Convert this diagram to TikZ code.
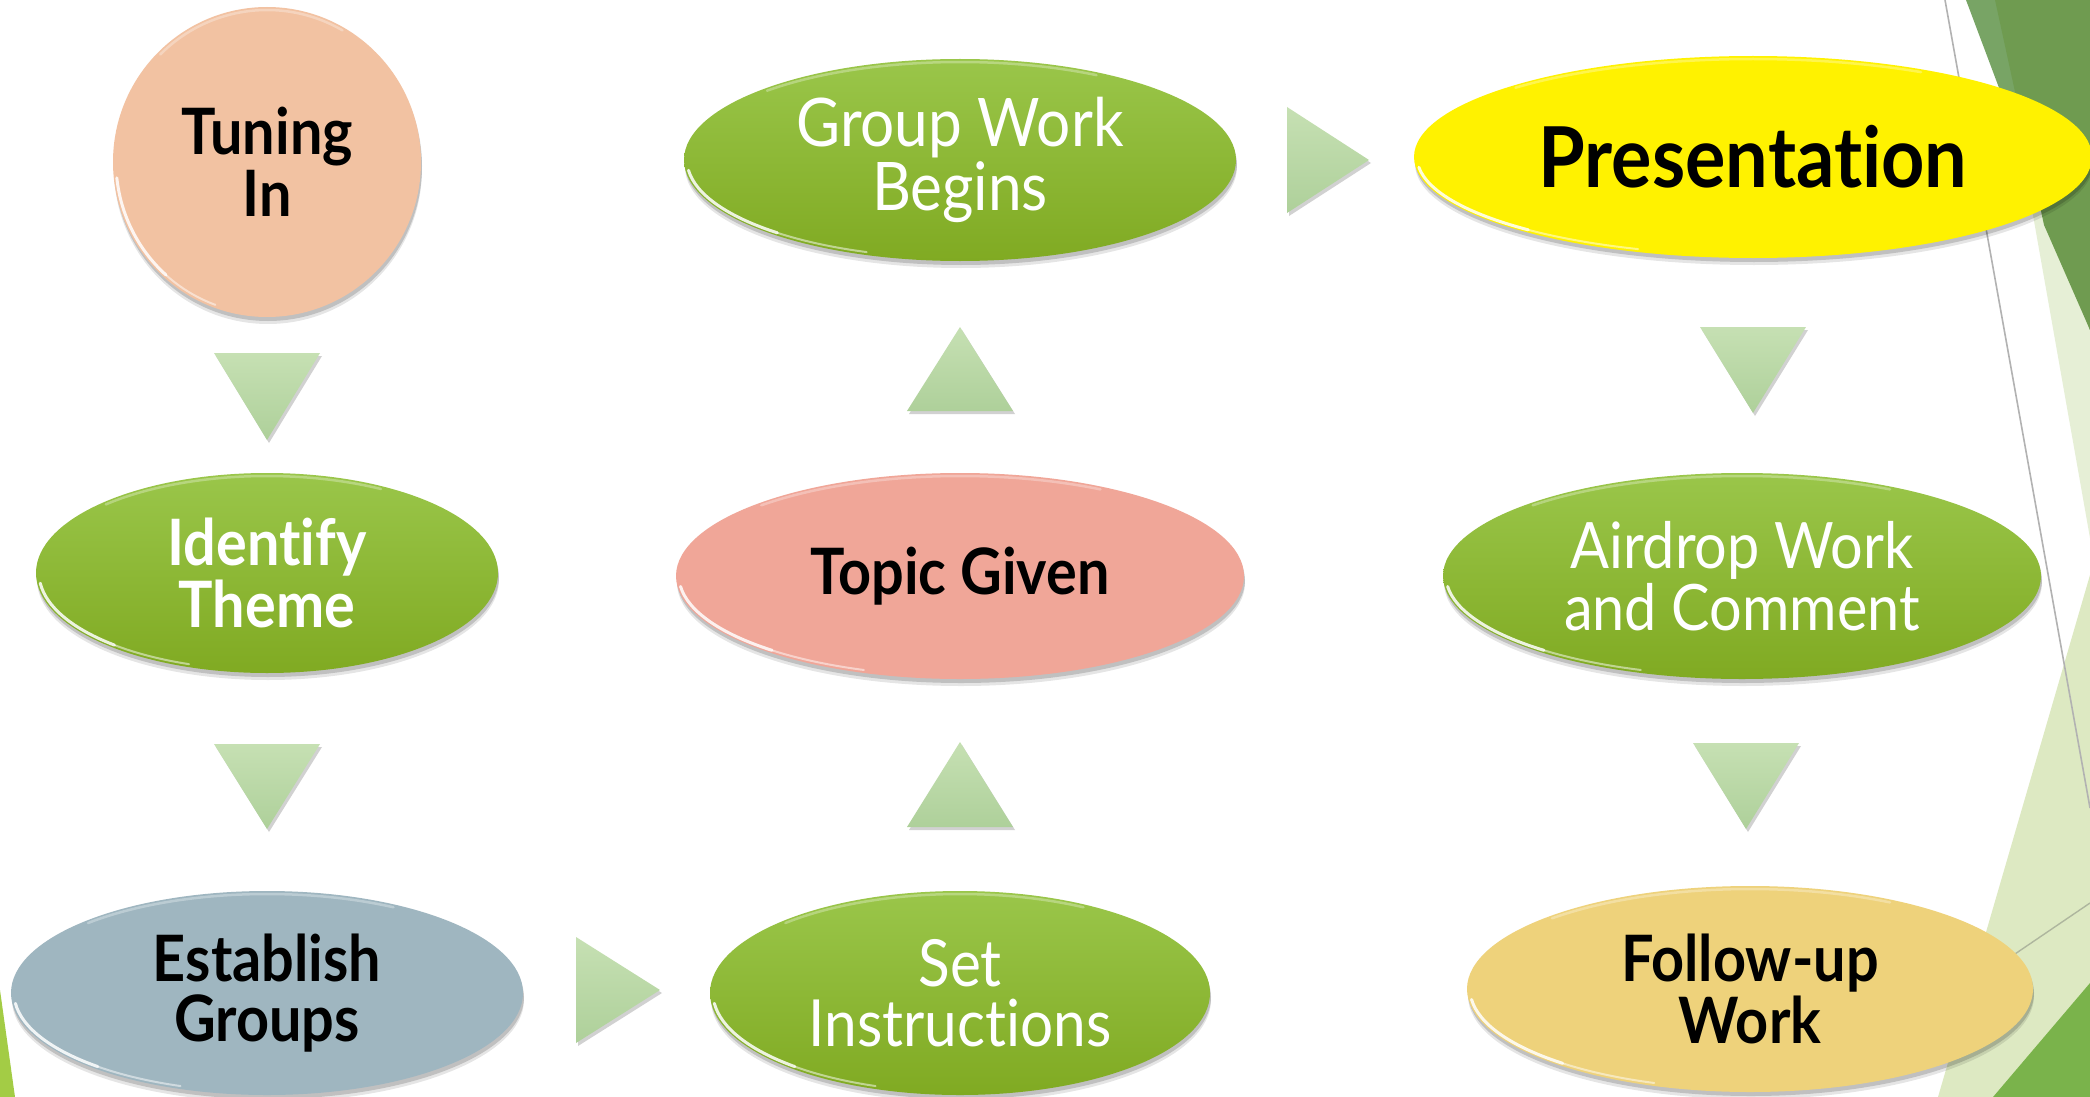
\documentclass[tikz,border=0pt]{standalone}
\usepackage{fontspec}
\setmainfont{Lato}[FakeStretch=0.9, Ligatures={NoCommon,NoRare}]
\usetikzlibrary{shapes.geometric,shadows}
\definecolor{gtop}{HTML}{9AC64A}
\definecolor{gbot}{HTML}{80AA22}
\definecolor{peach}{HTML}{F2C2A2}
\definecolor{bluegray}{HTML}{9FB6C0}
\definecolor{salmon}{HTML}{F0A698}
\definecolor{gold}{HTML}{EED27B}
\definecolor{tritop}{HTML}{C6E0B3}
\definecolor{tribot}{HTML}{AED09A}
\definecolor{dkgreen}{HTML}{6F9B50}
\definecolor{mdgreen}{HTML}{78A465}
\definecolor{ltgreen}{HTML}{E6EFD6}
\definecolor{ltgreenb}{HTML}{DDE9C2}
\definecolor{brgreen}{HTML}{7AB34B}
\definecolor{lfgreen}{HTML}{A3CC45}
\newcommand\regfont{\fontsize{64}{62}\selectfont}
\newcommand\bldfont{\fontsize{64}{62}\selectfont\bfseries}
\newcommand\prefont{\fontsize{84}{84}\selectfont\bfseries}
\tikzset{
  x=1pt, y=1pt,
  bub/.style={ellipse, inner sep=0pt, align=center,
    drop shadow={shadow xshift=1pt, shadow yshift=-7pt, opacity=.10, fill=black},
    drop shadow={shadow xshift=1pt, shadow yshift=-4pt, opacity=.16, fill=black}},
  greenbub/.style={bub, top color=gtop, bottom color=gbot, text=white, font=\regfont},
  darkbub/.style={bub, fill=#1, text=black, font=\bldfont},
  tri/.style={top color=tritop, bottom color=tribot,
    drop shadow={shadow xshift=2pt, shadow yshift=-3pt, opacity=.18, fill=black}},
  glow/.style={white, line cap=round}
}
% glossy rim on an ellipse node: name, rx, ry
\newcommand\gloss[3]{%
  \draw[glow, opacity=.85, line width=3pt] (#1.center) ++(186:{#2-3} and {#3-3})
     arc[start angle=186, end angle=228, x radius={#2-3}, y radius={#3-3}];
  \draw[glow, opacity=.5, line width=2pt] (#1.center) ++(228:{#2-3} and {#3-3})
     arc[start angle=228, end angle=250, x radius={#2-3}, y radius={#3-3}];
  \draw[glow, opacity=.3, line width=2.5pt] (#1.center) ++(60:{#2-3} and {#3-3})
     arc[start angle=60, end angle=135, x radius={#2-3}, y radius={#3-3}];}
% triangles: centre x, top y, bottom y  /  left x, right x, centre y
\newcommand\tridn[3]{\path[tri] (#1-53,-#2) -- (#1+53,-#2) -- (#1,-#3) -- cycle;}
\newcommand\triup[3]{\path[tri] (#1-53,-#3) -- (#1+53,-#3) -- (#1,-#2) -- cycle;}
\newcommand\trirt[3]{\path[tri] (#1,-#3+53) -- (#1,-#3-53) -- (#2,-#3) -- cycle;}
\begin{document}
\begin{tikzpicture}
\useasboundingbox (0,0) rectangle (2090,-1097);
\fill[white] (0,0) rectangle (2090,-1097);
% ---- background decoration ----
\fill[ltgreen] (1995,0) -- (2090,0) -- (2090,-538) -- cycle;
\fill[mdgreen] (1966,0) -- (2090,0) -- (2090,-330) -- cycle;
\fill[dkgreen] (1995,0) -- (2090,0) -- (2090,-330) -- (2044,-225) -- cycle;
\fill[ltgreenb] (2090,-575) -- (1938,-1097) -- (2090,-1097) -- cycle;
\fill[brgreen] (2090,-983) -- (2090,-1097) -- (1993,-1097) -- cycle;
\fill[lfgreen] (0,-990) -- (15,-1097) -- (0,-1097) -- cycle;
\draw[black!30, line width=1.6pt] (1945,0) -- (2090,-808);
\draw[black!12!ltgreenb!70!gray, line width=1.4pt] (1850,-1066) -- (2090,-903);
% ---- triangles ----
\tridn{267}{353}{440}
\tridn{267}{744}{829}
\trirt{576}{660}{990}
\triup{960}{742}{827}
\triup{960}{327}{411}
\trirt{1287}{1369}{160}
\tridn{1753}{327}{413}
\tridn{1746}{743}{829}
% ---- nodes ----
\node[darkbub=peach, minimum width=308, minimum height=310] (tun) at (267,-162) {Tuning\\In};
\node[greenbub, font=\bldfont, minimum width=462, minimum height=200] (ide) at (267,-573) {Identify\\Theme};
\node[darkbub=bluegray, font=\fontsize{64}{60}\selectfont\bfseries, minimum width=512, minimum height=204] (est) at (267,-993) {Establish\\Groups};
\node[greenbub, font=\fontsize{65}{60}\selectfont, minimum width=500, minimum height=204] (set) at (960,-993) {Set\\Instructions};
\node[darkbub=salmon, minimum width=568, minimum height=206] (top) at (960,-576) {Topic Given};
\node[greenbub, font=\fontsize{67}{64}\selectfont, minimum width=552, minimum height=202] (grp) at (960,-160) {Group Work\\Begins};
\node[darkbub=yellow, font=\prefont, minimum width=678, minimum height=202] (pre) at (1753,-157) {Presentation};
\node[greenbub, minimum width=598, minimum height=206] (air) at (1742,-576) {Airdrop Work\\and Comment};
\node[darkbub=gold, minimum width=566, minimum height=206] (fol) at (1750,-989) {Follow-up\\Work};
\gloss{tun}{154}{155}
\gloss{ide}{231}{100}
\gloss{est}{256}{102}
\gloss{set}{250}{102}
\gloss{top}{284}{103}
\gloss{grp}{276}{101}
\gloss{pre}{339}{101}
\gloss{air}{299}{103}
\gloss{fol}{283}{103}
\end{tikzpicture}
\end{document}
